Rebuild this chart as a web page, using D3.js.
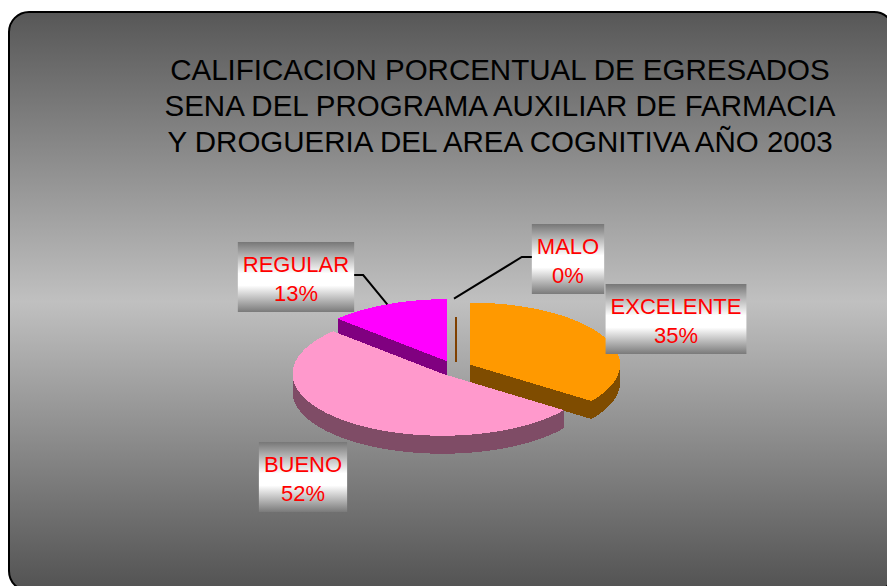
<!DOCTYPE html>
<html>
<head>
<meta charset="utf-8">
<script src="https://cdn.jsdelivr.net/npm/d3@7"></script>
<style>
  body { margin: 0; background: #fff; }
  text { font-family: "Liberation Sans", Arial, sans-serif; }
</style>
</head>
<body>
<script>
// chart data
const categories = ["EXCELENTE", "BUENO", "REGULAR", "MALO"];
const values = [35, 52, 13, 0];
const topColors = ["#ff9900", "#ff99cc", "#ff00ff", "#ff9900"];
const sideColors = ["#7f4c00", "#7f4c66", "#800080", "#7f4000"];
const titleLines = [
  "CALIFICACION PORCENTUAL DE EGRESADOS",
  "SENA DEL PROGRAMA AUXILIAR DE FARMACIA",
  "Y DROGUERIA DEL AREA COGNITIVA AÑO 2003"
];

const width = 887, height = 586;

// pie geometry (tilted, exploded)
const cx = 454, cy = 368, rx = 150, ry = 62, depth = 18, explode = 0.12;

// label boxes: centre x, top y, side the leader leaves from
const labelLayout = {
  "REGULAR":   { x: 296, y: 242, side: "right" },
  "MALO":      { x: 568, y: 224, side: "left" },
  "EXCELENTE": { x: 676, y: 284, side: null },
  "BUENO":     { x: 303, y: 442, side: null }
};

const svg = d3.select("body").append("svg")
  .attr("width", width)
  .attr("height", height);

const defs = svg.append("defs");

// background gradient dark - light - dark
const bg = defs.append("linearGradient")
  .attr("id", "bg").attr("x1", 0).attr("y1", 0).attr("x2", 0).attr("y2", 1);
bg.append("stop").attr("offset", "0%").attr("stop-color", "#575757");
bg.append("stop").attr("offset", "50%").attr("stop-color", "#c0c0c0");
bg.append("stop").attr("offset", "100%").attr("stop-color", "#525252");

// label box gradient gray - white - gray
const lg = defs.append("linearGradient")
  .attr("id", "lbl").attr("x1", 0).attr("y1", 0).attr("x2", 0).attr("y2", 1);
lg.append("stop").attr("offset", "0%").attr("stop-color", "#777");
lg.append("stop").attr("offset", "45%").attr("stop-color", "#fff");
lg.append("stop").attr("offset", "62%").attr("stop-color", "#fff");
lg.append("stop").attr("offset", "100%").attr("stop-color", "#7a7a7a");

svg.append("rect")
  .attr("x", 9).attr("y", 12)
  .attr("width", 885).attr("height", 579)
  .attr("rx", 20).attr("ry", 20)
  .attr("fill", "url(#bg)")
  .attr("stroke", "#000")
  .attr("stroke-width", 2);

// title
svg.append("g").selectAll("text")
  .data(titleLines)
  .enter().append("text")
  .attr("x", 500)
  .attr("y", (d, i) => 80 + i * 36)
  .attr("text-anchor", "middle")
  .attr("font-size", 29.5)
  .attr("fill", "#000")
  .text(d => d);

// pie layout
const arcs = d3.pie().sort(null).value(d => d)(values)
  .map((a, i) => {
    const mid = (a.startAngle + a.endAngle) / 2;
    return { ...a, name: categories[i], i, mid,
      ox: cx + explode * rx * Math.sin(mid),
      oy: cy - explode * ry * Math.cos(mid) };
  });

const rim = (a, t, dy = 0) => [a.ox + rx * Math.sin(t), a.oy - ry * Math.cos(t) + dy];
const arcPts = (a, t0, t1, dy = 0) => {
  const pts = d3.range(t0, t1, 0.01).map(t => rim(a, t, dy));
  pts.push(rim(a, t1, dy));
  return pts;
};
const line = d3.line();

// back to front
const order = arcs.slice().sort((a, b) => a.oy - b.oy);
const pie = svg.append("g").attr("shape-rendering", "crispEdges");

order.forEach(a => {
  const g = pie.append("g");
  if (a.endAngle - a.startAngle <= 0) {
    // 0% slice shows as a thin line
    g.append("line")
      .attr("x1", a.ox + 2).attr("x2", a.ox + 2)
      .attr("y1", a.oy - 0.7 * ry).attr("y2", a.oy + 1)
      .attr("stroke", sideColors[a.i]).attr("stroke-width", 1.5);
    return;
  }
  // radial walls
  [[a.startAngle, Math.sin(a.startAngle) < -1e-6], [a.endAngle, Math.sin(a.endAngle) > 1e-6]]
    .forEach(([t, vis]) => {
      if (!vis) return;
      const p = rim(a, t), q = rim(a, t, depth);
      g.append("path")
        .attr("d", line([[a.ox, a.oy], p, q, [a.ox, a.oy + depth]]) + "Z")
        .attr("fill", sideColors[a.i]);
    });
  // outer front side
  const lo = Math.max(a.startAngle, Math.PI / 2), hi = Math.min(a.endAngle, 3 * Math.PI / 2);
  if (lo < hi) {
    const pts = arcPts(a, lo, hi).concat(arcPts(a, lo, hi, depth).reverse());
    g.append("path").attr("d", line(pts) + "Z").attr("fill", sideColors[a.i]);
  }
  // top face
  const top = [[a.ox, a.oy]].concat(arcPts(a, a.startAngle, a.endAngle));
  g.append("path").attr("d", line(top) + "Z").attr("fill", topColors[a.i]);
});

// labels
const pct = d3.format(".0%");
const total = d3.sum(values);
const labels = svg.append("g");

arcs.forEach(a => {
  const L = labelLayout[a.name];
  const g = labels.append("g");
  const box = g.append("rect");
  const t1 = g.append("text")
    .attr("x", L.x).attr("y", L.y + 30)
    .attr("text-anchor", "middle").attr("font-size", 22).attr("fill", "#ff0000")
    .text(a.name);
  g.append("text")
    .attr("x", L.x).attr("y", L.y + 59)
    .attr("text-anchor", "middle").attr("font-size", 22).attr("fill", "#ff0000")
    .text(pct(a.value / total));
  const w = t1.node().getComputedTextLength() + 10;
  box.attr("x", L.x - w / 2).attr("y", L.y)
    .attr("width", w).attr("height", 70)
    .attr("fill", "url(#lbl)");

  if (L.side) {
    const end = rim(a, a.mid);
    const sx = L.side === "right" ? L.x + w / 2 : L.x - w / 2;
    const ex = L.side === "right" ? sx + 9 : sx - 10;
    labels.append("path")
      .attr("d", line([[sx, L.y + 33], [ex, L.y + 33], end]))
      .attr("fill", "none")
      .attr("stroke", "#000")
      .attr("stroke-width", 2);
  }
});
</script>
</body>
</html>
